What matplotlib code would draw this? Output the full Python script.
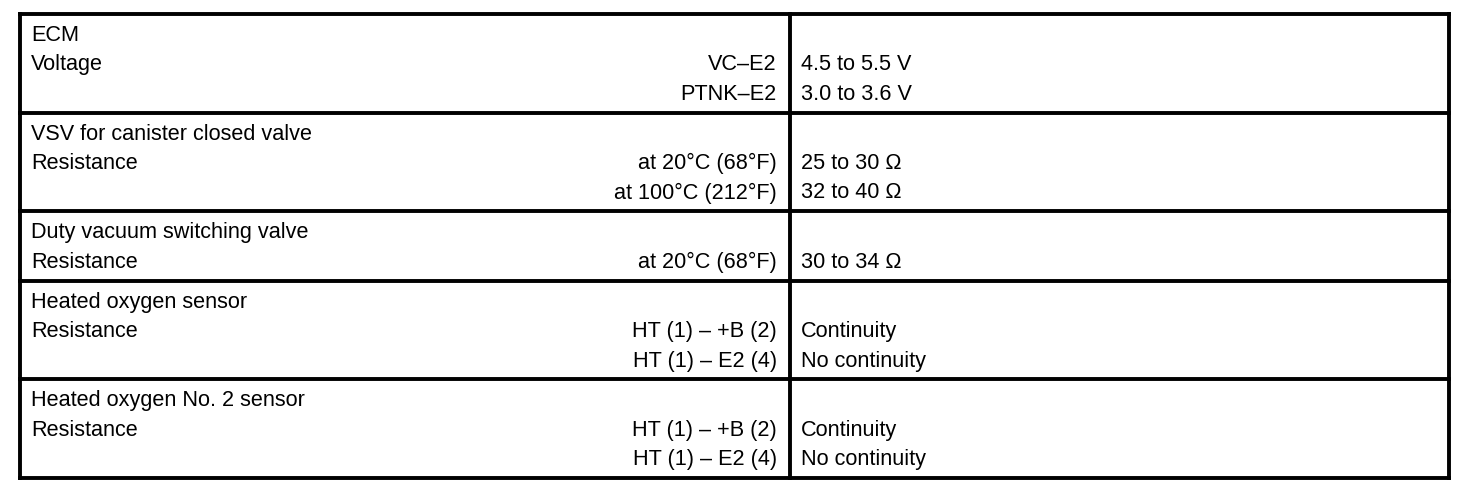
import matplotlib
matplotlib.use("Agg")
import matplotlib.pyplot as plt

# ---- data ----
sections = ["ECM", "VSV for canister closed valve", "Duty vacuum switching valve",
            "Heated oxygen sensor", "Heated oxygen No. 2 sensor"]
parameters = ["Voltage", "Resistance", "Resistance", "Resistance", "Resistance"]
conditions = [
    ["VC\u2013E2", "PTNK\u2013E2"],
    ["at 20\u00b0C (68\u00b0F)", "at 100\u00b0C (212\u00b0F)"],
    ["at 20\u00b0C (68\u00b0F)"],
    ["HT (1) \u2013 +B (2)", "HT (1) \u2013 E2 (4)"],
    ["HT (1) \u2013 +B (2)", "HT (1) \u2013 E2 (4)"],
]
specs = [
    ["4.5 to 5.5 V", "3.0 to 3.6 V"],
    ["25 to 30 \u03a9", "32 to 40 \u03a9"],
    ["30 to 34 \u03a9"],
    ["Continuity", "No continuity"],
    ["Continuity", "No continuity"],
]

# ---- layout ----
W, H = 1472, 500
fig = plt.figure(figsize=(W / 100, H / 100), dpi=100)
ax = fig.add_axes([0, 0, 1, 1])
ax.set_xlim(0, W)
ax.set_ylim(H, 0)
ax.axis("off")

plt.rcParams["font.family"] = ["Liberation Sans", "DejaVu Sans"]
FS = 15.6
LEFT, RIGHT, DIV = 20, 1449, 790
TOP = 14
PITCH, PAD = 29.4, 10.5
LW = 2.8

y = TOP
ax.plot([LEFT, RIGHT], [y, y], color="black", lw=LW, solid_capstyle="projecting")
for sec, par, conds, vals in zip(sections, parameters, conditions, specs):
    nlines = 1 + len(conds)
    h = nlines * PITCH + PAD
    base = y + 27
    ax.text(LEFT + 11, base, sec, fontsize=FS, va="baseline", ha="left")
    ax.text(LEFT + 11, base + PITCH, par, fontsize=FS, va="baseline", ha="left")
    for i, (c, v) in enumerate(zip(conds, vals)):
        yy = base + PITCH * (i + 1)
        ax.text(DIV - 13, yy, c, fontsize=FS, va="baseline", ha="right")
        ax.text(DIV + 11, yy, v, fontsize=FS, va="baseline", ha="left")
    y2 = y + h
    ax.plot([LEFT, RIGHT], [y2, y2], color="black", lw=LW, solid_capstyle="projecting")
    y = y2

ax.plot([LEFT, LEFT], [TOP, y], color="black", lw=LW, solid_capstyle="projecting")
ax.plot([RIGHT, RIGHT], [TOP, y], color="black", lw=LW, solid_capstyle="projecting")
ax.plot([DIV, DIV], [TOP, y], color="black", lw=LW, solid_capstyle="projecting")

fig.savefig("out.png", dpi=100, facecolor="white")
